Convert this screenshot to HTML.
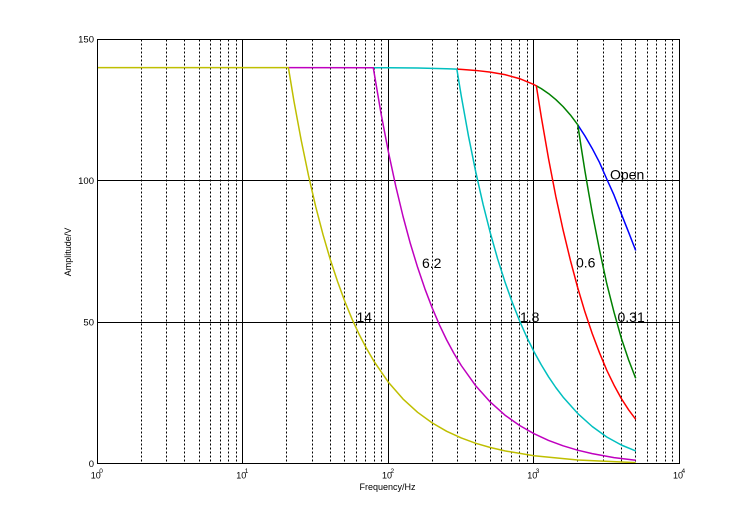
<!DOCTYPE html>
<html><head><meta charset="utf-8"><style>
html,body{margin:0;padding:0;background:#fff;}
svg{display:block;}
text{font-family:"Liberation Sans",Arial,sans-serif;fill:#000;}
</style></head><body>
<svg width="750" height="521" viewBox="0 0 750 521" xmlns="http://www.w3.org/2000/svg">
<rect x="0" y="0" width="750" height="521" fill="#fff"/>
<rect x="97.5" y="39.5" width="582" height="424" fill="#fff"/>
<!-- minor dotted grid -->
<path fill="none" stroke="#000" stroke-width="1" stroke-dasharray="2,2" d="
M141.5 39.5V463.5 M166.5 39.5V463.5 M184.5 39.5V463.5 M199.5 39.5V463.5 M210.5 39.5V463.5 M220.5 39.5V463.5 M228.5 39.5V463.5 M236.5 39.5V463.5
M286.5 39.5V463.5 M312.5 39.5V463.5 M330.5 39.5V463.5 M344.5 39.5V463.5 M356.5 39.5V463.5 M365.5 39.5V463.5 M374.5 39.5V463.5 M381.5 39.5V463.5
M432.5 39.5V463.5 M457.5 39.5V463.5 M475.5 39.5V463.5 M490.5 39.5V463.5 M501.5 39.5V463.5 M511.5 39.5V463.5 M519.5 39.5V463.5 M527.5 39.5V463.5
M577.5 39.5V463.5 M603.5 39.5V463.5 M621.5 39.5V463.5 M635.5 39.5V463.5 M647.5 39.5V463.5 M656.5 39.5V463.5 M665.5 39.5V463.5 M672.5 39.5V463.5"/>
<!-- major solid grid -->
<path fill="none" stroke="#000" stroke-width="1" d="M242.5 39.5V463.5 M388.5 39.5V463.5 M533.5 39.5V463.5 M97.5 180.5H679.5 M97.5 322.5H679.5"/>

<g fill="none" stroke-width="1.5" stroke-linejoin="round">
<!-- Open (blue) -->
<polyline stroke="#0000ff" points="577.65,124.71 584.9,135.85 592.2,148.46 599.5,162.43 606.75,179.0 614.0,195.1 621.3,213.8 628.6,232.2 635.7,250.5"/>
<!-- 0.31 (green) -->
<polyline stroke="#008000" points="536.3,85.79 541.3,88.65 548.55,93.6 555.8,99.54 563.1,106.61 570.4,114.98 577.8,124.85 581.3,148.0 584.9,170.8 588.6,192.4 592.2,212.66 599.5,249.9 606.75,283.6 614.0,312.2 621.3,338.1 628.6,359.9 635.7,378.3"/>
<!-- 0.6 (red) -->
<polyline stroke="#ff0000" points="456.85,69.17 461.25,69.39 475.8,70.44 490.35,72.08 504.9,74.63 519.45,78.59 534,84.61 536.3,85.79 541.3,117.0 548.55,158.8 555.8,196.4 563.1,230.1 570.4,260.3 577.65,287.5 584.9,311.8 592.2,333.5 599.5,352.8 606.75,370.2 614.0,385.1 621.3,398.5 628.6,409.8 635.7,419.3"/>
<!-- 1.8 (cyan) -->
<polyline stroke="#00bfbf" points="373.3,67.7 388.5,67.75 417.6,68.03 446.7,68.71 456.85,69.17 461.25,95.86 468.5,136.18 475.8,172.2 483.1,204.4 490.35,233.1 497.6,258.8 504.9,281.7 512.2,302.2 519.45,320.5 526.7,337.0 534,351.7 541.3,364.9 548.55,376.8 555.8,387.5 563.1,397.1 577.65,413.4 592.2,426.5 606.75,437.0 621.3,445.0 635.7,450.9"/>
<!-- 6.2 (magenta) -->
<polyline stroke="#bf00bf" points="288.4,67.58 373.3,67.7 373.95,71.8 381.2,114.5 388.5,152.4 395.8,186.3 403.05,216.5 410.3,243.4 417.6,267.3 424.9,288.8 432.15,307.8 439.4,324.8 446.7,340.0 454.0,353.5 461.25,365.5 475.8,385.9 490.35,402.1 504.9,415.1 519.45,425.4 534,433.7 548.55,440.4 563.1,445.8 577.65,450.2 592.2,453.6 614.0,457.6 635.7,460.2"/>
<!-- 14 (yellow) -->
<polyline stroke="#bfbf00" points="97.5,67.58 288.4,67.58 293.9,100.9 301.2,140.3 308.5,175.5 315.75,206.8 323.0,234.6 330.3,259.6 337.6,281.6 344.85,301.5 352.1,319.2 359.4,334.9 366.7,348.8 373.95,361.3 388.5,382.4 403.05,399.05 417.6,412.3 432.15,422.9 446.7,431.3 461.25,437.96 475.8,443.3 490.35,447.5 504.9,450.9 534,455.7 577.65,460.0 635.7,462.6"/>
</g>

<!-- axes box -->
<rect x="97.5" y="39.5" width="582" height="424" fill="none" stroke="#000" stroke-width="1"/>

<!-- y tick labels -->
<g font-size="9.5" text-anchor="end">
<text x="94" y="42.7">150</text>
<text x="94" y="183.9">100</text>
<text x="94" y="325.6">50</text>
<text x="94" y="467">0</text>
</g>
<!-- x tick labels -->
<g font-size="9">
<text x="90.8" y="478.3">10</text><text x="99.3" y="473" font-size="6.5">0</text>
<text x="236.3" y="478.3">10</text><text x="244.8" y="473" font-size="6.5">1</text>
<text x="382" y="478.3">10</text><text x="390.5" y="473" font-size="6.5">2</text>
<text x="527.3" y="478.3">10</text><text x="535.8" y="473" font-size="6.5">3</text>
<text x="673" y="478.3">10</text><text x="681.5" y="473" font-size="6.5">4</text>
</g>
<text x="387.5" y="490" font-size="9" text-anchor="middle">Frequency/Hz</text>
<text transform="translate(71,252) rotate(-90)" font-size="9" text-anchor="middle">Amplitude/V</text>

<!-- curve labels -->
<g font-size="14">
<text x="610" y="179.5">Open</text>
<text x="576" y="267.5">0.6</text>
<text x="617.5" y="322">0.31</text>
<text x="520" y="322">1.8</text>
<text x="356.5" y="322">14</text>
<text x="422" y="268">6.2</text>
</g>
</svg>
</body></html>
